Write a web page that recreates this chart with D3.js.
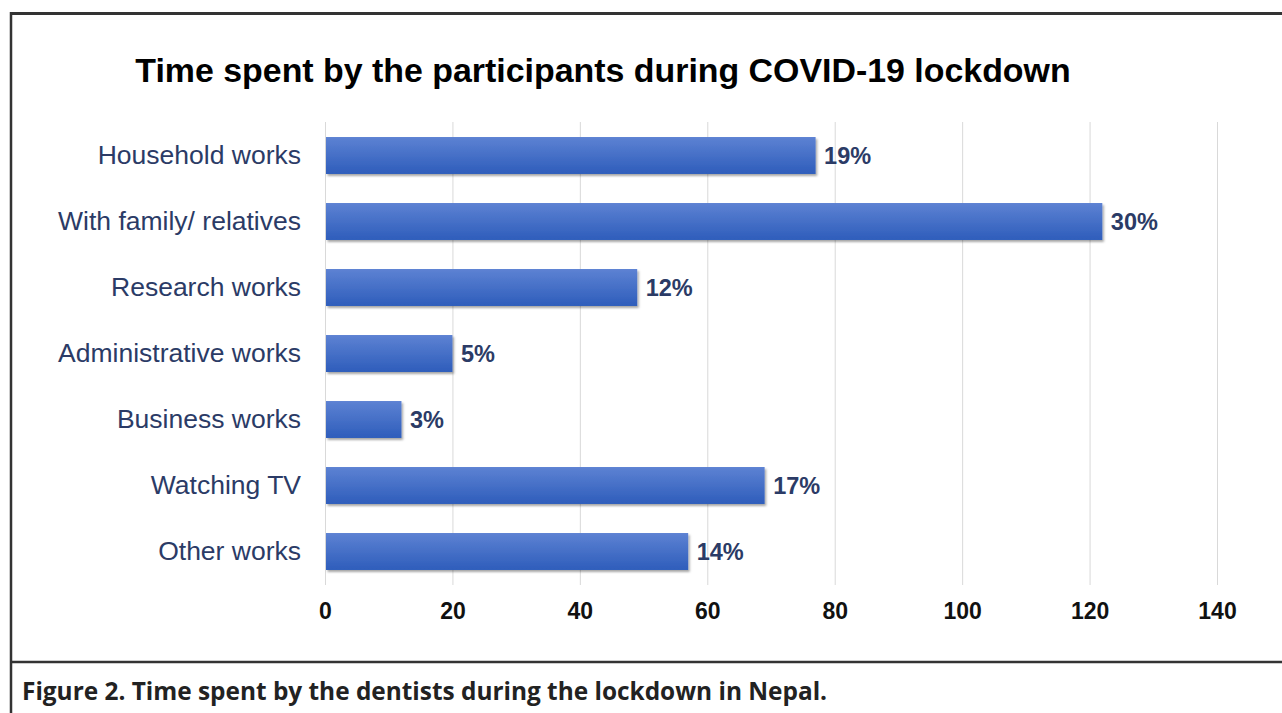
<!DOCTYPE html>
<html>
<head>
<meta charset="utf-8">
<script src="https://cdn.jsdelivr.net/npm/d3@7"></script>
<style>
  body { margin: 0; background: #fff; }
  svg { display: block; }
</style>
</head>
<body>
<svg id="chart"></svg>
<script>
var categories = ["Household works", "With family/ relatives", "Research works",
  "Administrative works", "Business works", "Watching TV", "Other works"];
var counts = [77, 122, 49, 20, 12, 69, 57];
var percentLabels = ["19%", "30%", "12%", "5%", "3%", "17%", "14%"];
var xTicks = [0, 20, 40, 60, 80, 100, 120, 140];

var W = 1282, H = 713;
var margin = { top: 122.5, left: 325, right: 65, bottom: 128 };
var sans = "'Liberation Sans', Arial, sans-serif";

var svg = d3.select("#chart").attr("width", W).attr("height", H);

// gradient + shadow for bars
var defs = svg.append("defs");
var grad = defs.append("linearGradient")
    .attr("id", "barGrad").attr("x1", 0).attr("y1", 0).attr("x2", 0).attr("y2", 1);
grad.append("stop").attr("offset", "0%").attr("stop-color", "#5d82d3");
grad.append("stop").attr("offset", "100%").attr("stop-color", "#2e5dbb");
var filt = defs.append("filter").attr("id", "shadow")
    .attr("x", "-5%").attr("y", "-20%").attr("width", "115%").attr("height", "160%");
filt.append("feDropShadow").attr("dx", 1.5).attr("dy", 2).attr("stdDeviation", 1.2)
    .attr("flood-color", "#000").attr("flood-opacity", 0.35);

// frame
svg.append("line").attr("x1", 10).attr("x2", W).attr("y1", 13.5).attr("y2", 13.5)
    .attr("stroke", "#333").attr("stroke-width", 3);
svg.append("line").attr("x1", 10).attr("x2", W).attr("y1", 662).attr("y2", 662)
    .attr("stroke", "#333").attr("stroke-width", 2.5);
svg.append("line").attr("x1", 11).attr("x2", 11).attr("y1", 12).attr("y2", H)
    .attr("stroke", "#333").attr("stroke-width", 2.5);

var x = d3.scaleLinear().domain([0, 140]).range([margin.left, 1217]);
var y = d3.scaleBand().domain(categories).range([margin.top, 584.5]).paddingInner(0.44).paddingOuter(0.22);

// gridlines
svg.append("g").selectAll("line").data(xTicks).enter().append("line")
    .attr("x1", function(d) { return x(d) + 0.5; })
    .attr("x2", function(d) { return x(d) + 0.5; })
    .attr("y1", 122).attr("y2", 585)
    .attr("stroke", "#d9d9d9").attr("stroke-width", 1);

// bars
svg.append("g").selectAll("rect").data(categories).enter().append("rect")
    .attr("x", x(0) + 1)
    .attr("y", function(d) { return y(d); })
    .attr("width", function(d, i) { return x(counts[i]) - x(0) - 1; })
    .attr("height", y.bandwidth())
    .attr("fill", "url(#barGrad)")
    .attr("filter", "url(#shadow)");

// value labels
svg.append("g").selectAll("text").data(categories).enter().append("text")
    .attr("x", function(d, i) { return x(counts[i]) + 8.5; })
    .attr("y", function(d) { return y(d) + y.bandwidth() / 2; })
    .attr("dy", "0.36em")
    .attr("font-family", sans)
    .attr("font-weight", "bold").attr("font-size", 23.5)
    .attr("fill", "#2b3b66")
    .text(function(d, i) { return percentLabels[i]; });

// category axis
var yAxis = svg.append("g").attr("transform", "translate(" + margin.left + ",0)")
    .call(d3.axisLeft(y).tickSize(0).tickPadding(24));
yAxis.select(".domain").remove();
yAxis.selectAll("text")
    .attr("font-family", sans)
    .attr("font-size", 26.5).attr("fill", "#2b3b66");

// value axis
var xAxis = svg.append("g").attr("transform", "translate(0,585)")
    .call(d3.axisBottom(x).tickValues(xTicks).tickSize(0).tickPadding(0));
xAxis.select(".domain").remove();
xAxis.selectAll("text")
    .attr("y", 34).attr("dy", 0)
    .attr("font-family", sans)
    .attr("font-weight", "bold").attr("font-size", 23).attr("fill", "#111");

// title
svg.append("text")
    .attr("x", 603).attr("y", 82)
    .attr("text-anchor", "middle")
    .attr("font-family", sans)
    .attr("font-weight", "bold").attr("font-size", 33.9).attr("fill", "#000")
    .text("Time spent by the participants during COVID-19 lockdown");

// caption
svg.append("text")
    .attr("x", 22).attr("y", 700)
    .attr("font-family", "'Open Sans', sans-serif")
    .attr("font-weight", "bold").attr("font-size", 24.4).attr("fill", "#222")
    .text("Figure 2. Time spent by the dentists during the lockdown in Nepal.");
</script>
</body>
</html>
